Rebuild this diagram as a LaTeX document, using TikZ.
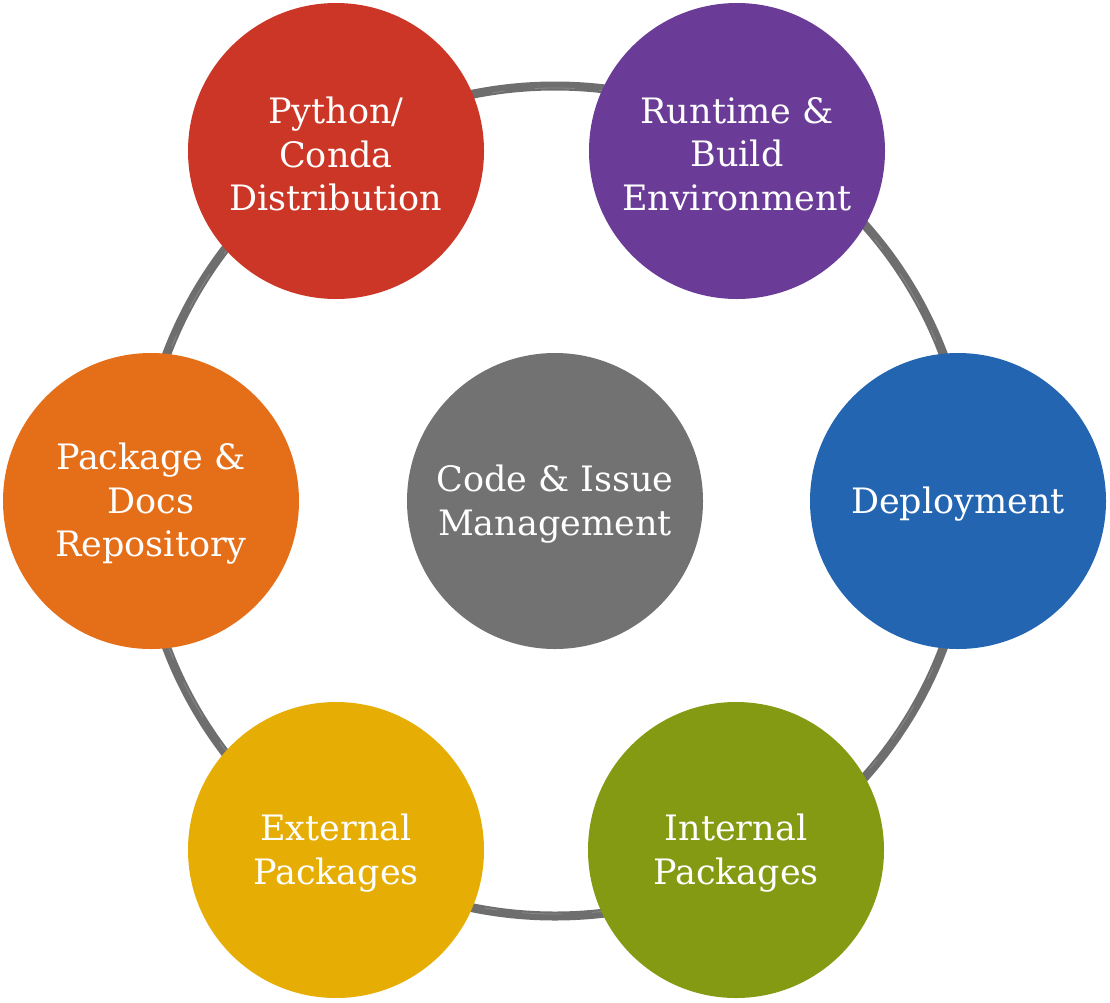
\documentclass[tikz,border=0pt]{standalone}
\usepackage{fontspec}
\setmainfont{DejaVu Serif}
\definecolor{cred}{HTML}{CC3626}
\definecolor{cpurple}{HTML}{6B3C97}
\definecolor{cblue}{HTML}{2465B2}
\definecolor{cgreen}{HTML}{849A13}
\definecolor{cyellow}{HTML}{E6AD05}
\definecolor{corange}{HTML}{E56E19}
\definecolor{cgray}{HTML}{727272}
\definecolor{cring}{HTML}{6E6E6E}
\tikzset{
  bubble/.style={circle, minimum size=296pt, inner sep=0pt, fill=#1},
  txt/.style={text=white, align=center, font=\fontsize{35}{43.5}\selectfont, yshift=-3pt},
  ringline/.style={draw=cring, line width=9pt},
  streak/.style={draw=white, opacity=0.18, line width=0.8pt, dash pattern=on 40pt off 25pt on 12pt off 30pt}
}
\begin{document}
\begin{tikzpicture}[x=1pt,y=-1pt]
\useasboundingbox (0,0) rectangle (1110,1002);
\coordinate (hub) at (555,501);
% ring
\draw[ringline] (hub) circle (415);
\draw[streak] (hub) circle (413);
% bubbles
\node[bubble=cred, label={[txt]center:Python/\\Conda\\Distribution}] (python) at (336,151) {};
\node[bubble=cpurple, label={[txt]center:Runtime \&\\Build\\Environment}] (runtime) at (737,151) {};
\node[bubble=cblue, label={[txt]center:Deployment}] (deploy) at (958,501) {};
\node[bubble=cgreen, label={[txt]center:Internal\\Packages}] (internal) at (736,850) {};
\node[bubble=cyellow, label={[txt]center:External\\Packages}] (external) at (336,850) {};
\node[bubble=corange, label={[txt]center:Package \&\\Docs\\Repository}] (repo) at (151,501) {};
\node[bubble=cgray, label={[txt]center:Code \& Issue\\Management}] (code) at (hub) {};
\end{tikzpicture}
\end{document}
